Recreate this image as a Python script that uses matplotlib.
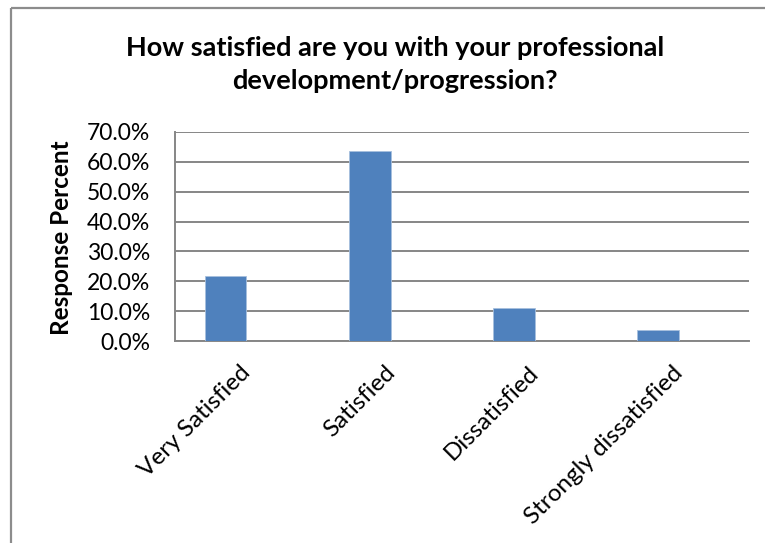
import matplotlib
matplotlib.use("Agg")
import matplotlib.pyplot as plt
import matplotlib.transforms as mtrans
from matplotlib.lines import Line2D
from matplotlib.ticker import FuncFormatter, MultipleLocator

categories = ["Very Satisfied", "Satisfied", "Dissatisfied", "Strongly dissatisfied"]
percent = [21.8, 63.6, 10.9, 3.6]
title = "How satisfied are you with your professional\ndevelopment/progression?"
ylabel = "Response Percent"

W, H, DPI = 765, 543, 100
fig = plt.figure(figsize=(W / DPI, H / DPI), dpi=DPI)
fig.patch.set_facecolor("white")

FONT = "Lato"
GRAY = "#868686"

# chart frame: left and top border (the rest runs off the canvas)
fx, fy = 10.5 / W, 1 - 7.5 / H
fig.add_artist(Line2D([fx, fx], [0, fy], transform=fig.transFigure,
                      color="#8c8c8c", linewidth=1.6, solid_capstyle="butt"))
fig.add_artist(Line2D([fx, 1.0], [fy, fy], transform=fig.transFigure,
                      color="#8c8c8c", linewidth=1.6, solid_capstyle="butt"))

ax = fig.add_axes([175 / W, 202 / H, (749 - 175) / W, (411 - 202) / H])
x = list(range(len(categories)))
ax.bar(x, percent, width=0.285, color="#4f81bd", edgecolor="#a7c0de",
       linewidth=0.6, zorder=3)

ax.set_xlim(-0.354, 3.632)
ax.set_ylim(0, 70)
ax.yaxis.set_major_locator(MultipleLocator(10))
ax.yaxis.set_major_formatter(FuncFormatter(lambda v, p: f"{v:.1f}%"))
ax.grid(axis="y", color=GRAY, linewidth=1.4, zorder=0)
ax.set_axisbelow(True)

for s in ["top", "right"]:
    ax.spines[s].set_visible(False)
for s in ["left", "bottom"]:
    ax.spines[s].set_color(GRAY)
    ax.spines[s].set_linewidth(1.4)
ax.tick_params(axis="both", length=0, labelsize=16.5)
ax.tick_params(axis="y", pad=18)
ax.tick_params(axis="x", pad=0)
for lab in ax.get_yticklabels():
    lab.set_family(FONT)

ax.set_xticks(x)
ax.set_xticklabels(categories, rotation=45, ha="right", va="top",
                   rotation_mode="anchor", family=FONT, fontsize=17.5)
offset = mtrans.ScaledTranslation(14 / DPI, -21 / DPI, fig.dpi_scale_trans)
for lab in ax.get_xticklabels():
    lab.set_transform(lab.get_transform() + offset)

ax.set_ylabel(ylabel, family=FONT, fontweight="bold", fontsize=17.5)
ax.yaxis.set_label_coords(73 / W, 305 / H, transform=fig.transFigure)

fig.text(395 / W, 1 - 64.5 / H, title, ha="center", va="center", family=FONT,
         fontweight="bold", fontsize=19.5, linespacing=1.42)

fig.savefig("out.png", dpi=DPI, facecolor="white")
